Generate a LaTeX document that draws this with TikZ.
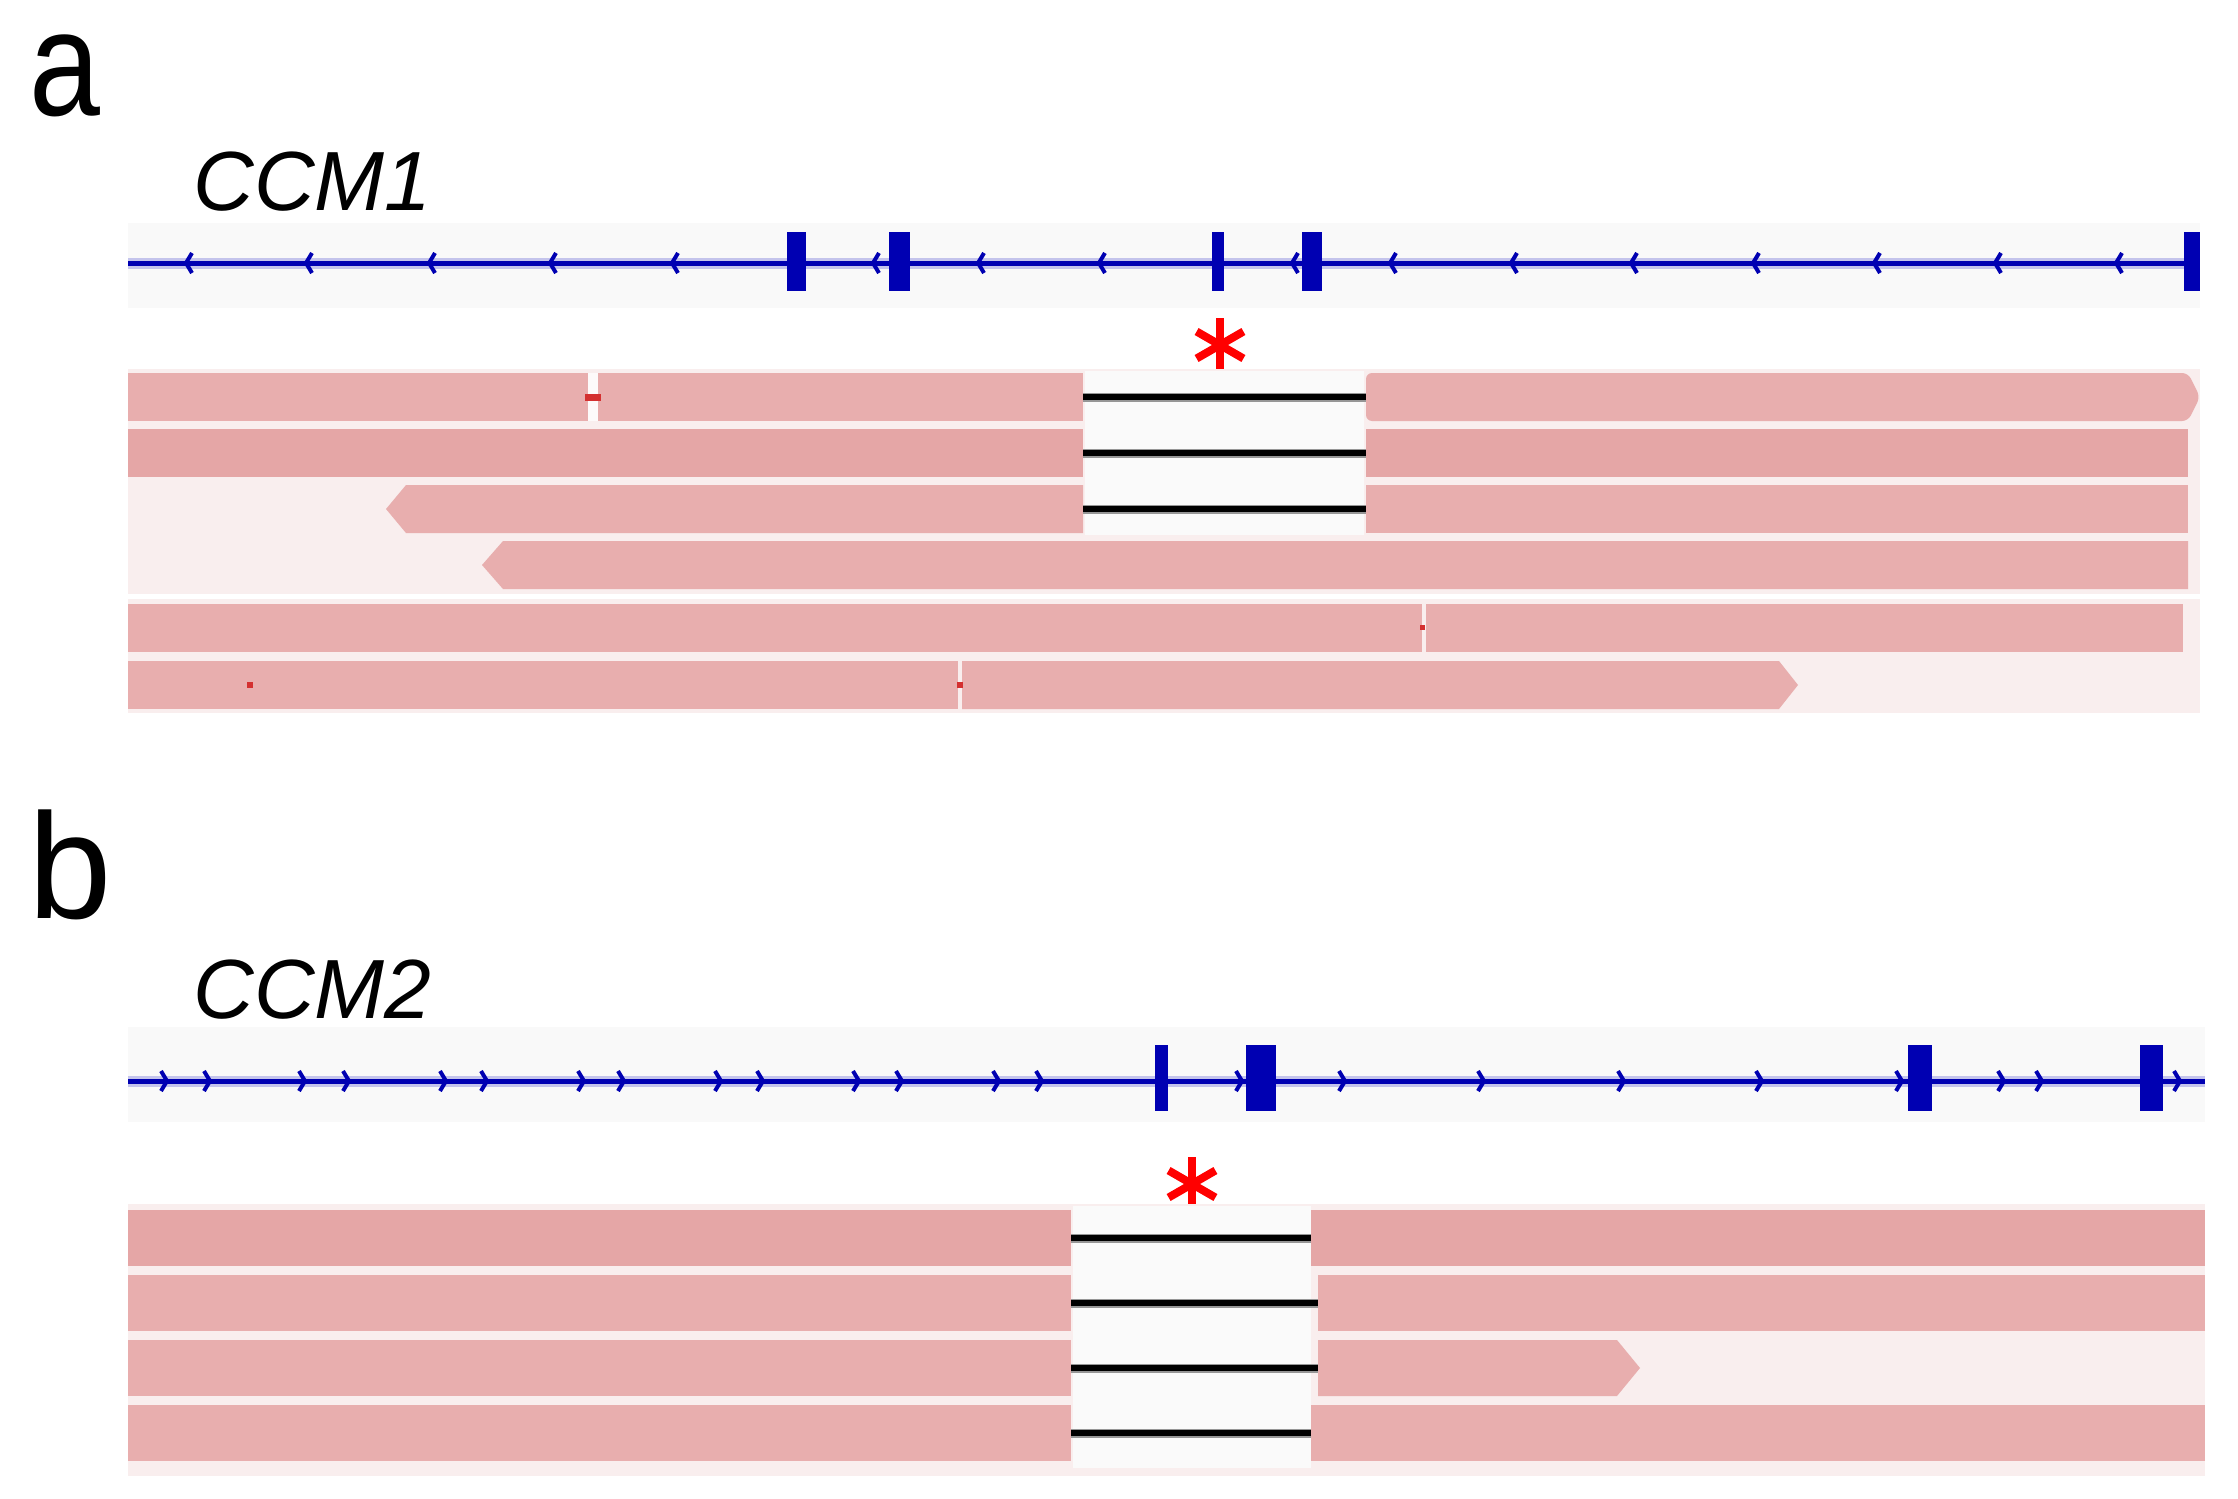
\documentclass[tikz,border=0pt]{standalone}
\usepackage{fontspec}
\setmainfont{Liberation Sans}
\definecolor{geneblue}{RGB}{0,0,178}
\definecolor{genehalo}{RGB}{196,196,236}
\definecolor{trackbg}{RGB}{249,249,249}
\definecolor{readcol}{RGB}{232,174,174}
\definecolor{readdark}{RGB}{229,166,166}
\definecolor{readbg}{RGB}{249,238,238}
\definecolor{gapcol}{RGB}{250,250,250}
\definecolor{delred}{RGB}{212,48,48}
\definecolor{junchalo}{RGB}{150,150,150}
\begin{document}
\begin{tikzpicture}[x=0.5pt,y=-0.5pt,
  trackbox/.style={fill=trackbg},
  glinehalo/.style={draw=genehalo,line width=5.5pt},
  gline/.style={draw=geneblue,line width=2.5pt},
  exonbox/.style={fill=geneblue},
  chev/.style={draw=geneblue,line width=2pt},
  rbg/.style={fill=readbg},
  rfill/.style={fill=readcol},
  rfilldark/.style={fill=readdark},
  gapbox/.style={fill=gapcol},
  junchalo/.style={draw=junchalo,line width=4.5pt},
  junc/.style={draw=black,line width=3pt},
  delmark/.style={fill=delred},
  delgap/.style={fill=white!70!readbg},
  starline/.style={draw=red,line width=4pt},
  panellabel/.style={inner sep=0pt,font=\fontsize{75pt}{80pt}\selectfont},
  genename/.style={inner sep=0pt,font=\fontsize{42pt}{46pt}\selectfont\itshape}]
\useasboundingbox (0,0) rectangle (2238,1499);
\fill[white] (0,0) rectangle (2238,1499);

% ---------------- Panel a ----------------
\node[panellabel,anchor=base west] (la) at (29,115) {\scalebox{0.85}[1]{a}};
\node[genename,anchor=base west] (g1) at (193,210) {CCM1};

\fill[trackbox] (128,223) rectangle (2200,308);
\draw[glinehalo] (128,263) -- (2200,263);
\draw[gline] (128,263) -- (2200,263);
\foreach \x in {186,306,429,550,672,873,978,1099,1292,1390,1511,1631,1753,1874,1995,2116}
  \draw[chev] (\x+6,253) -- (\x,263) -- (\x+6,273);
\foreach \a/\b in {787/806,889/910,1212/1224,1302/1322,2184/2200}
  \fill[exonbox] (\a,232) rectangle (\b,291);

% star a
\draw[starline] (1220,318) -- (1220,372);
\draw[starline] (1196.6,331.5) -- (1243.4,358.5);
\draw[starline] (1196.6,358.5) -- (1243.4,331.5);

% read backgrounds
\fill[rbg] (128,369) rectangle (2200,594);
\fill[rbg] (128,599) rectangle (2200,713);
\fill[gapbox] (1085,371) rectangle (1364,535);

% row 1
\fill[rfill] (128,373) rectangle (1083,421);
\fill[rfill,rounded corners=3pt] (1366,373) -- (2188,373) -- (2200,397) -- (2188,421) -- (1366,421) -- cycle;
\fill[delgap] (588,373) rectangle (598,421);
\fill[delmark] (585,394) rectangle (601,401);
% row 2
\fill[rfilldark] (128,429) rectangle (1083,477);
\fill[rfilldark] (1366,429) rectangle (2188,477);
% row 3
\fill[rfill] (386,509) -- (406,485) -- (1083,485) -- (1083,533) -- (406,533) -- cycle;
\fill[rfill] (1366,485) rectangle (2188,533);
% row 4
\fill[rfill] (482,565) -- (503,541) -- (2188,541) -- (2188,589) -- (503,589) -- cycle;
% row 5
\fill[rfill] (128,604) rectangle (1422,652);
\fill[rfill] (1426,604) rectangle (2183,652);
\fill[delmark] (1420,625) rectangle (1425,630);
% row 6
\fill[rfill] (128,661) rectangle (958,709);
\fill[rfill] (962,661) -- (1779,661) -- (1798,685) -- (1779,709) -- (962,709) -- cycle;
\fill[delmark] (957,682) rectangle (963,688);
\fill[delmark] (247,682) rectangle (253,688);

% junctions a
\foreach \y in {397,453,509} {
  \draw[junchalo] (1083,\y) -- (1366,\y);
  \draw[junc] (1083,\y) -- (1366,\y);
}

% ---------------- Panel b ----------------
\node[panellabel,anchor=base west] (lb) at (28,918) {b};
\node[genename,anchor=base west] (g2) at (193,1018) {CCM2};

\fill[trackbox] (128,1027) rectangle (2205,1122);
\draw[glinehalo] (128,1081) -- (2205,1081);
\draw[gline] (128,1081) -- (2205,1081);
\foreach \x in {167,210,305,349,446,487,584,624,721,763,859,902,999,1042,1242,1345,1484,1624,1762,1902,2004,2042,2180}
  \draw[chev] (\x-6,1071) -- (\x,1081) -- (\x-6,1091);
\foreach \a/\b in {1155/1168,1246/1276,1908/1932,2140/2163}
  \fill[exonbox] (\a,1045) rectangle (\b,1111);

% star b
\draw[starline] (1192,1157) -- (1192,1211);
\draw[starline] (1168.6,1170.5) -- (1215.4,1197.5);
\draw[starline] (1168.6,1197.5) -- (1215.4,1170.5);

\fill[rbg] (128,1204) rectangle (2205,1476);
\fill[gapbox] (1073,1206) rectangle (1311,1468);

\fill[rfilldark] (128,1210) rectangle (1071,1266);
\fill[rfilldark] (1311,1210) rectangle (2205,1266);
\fill[rfill] (128,1275) rectangle (1071,1331);
\fill[rfill] (1318,1275) rectangle (2205,1331);
\fill[rfill] (128,1340) rectangle (1071,1396);
\fill[rfill] (1318,1340) -- (1617,1340) -- (1640,1368) -- (1617,1396) -- (1318,1396) -- cycle;
\fill[rfill] (128,1405) rectangle (1071,1461);
\fill[rfill] (1311,1405) rectangle (2205,1461);

\foreach \y/\e in {1238/1311,1303/1318,1368/1318,1433/1311} {
  \draw[junchalo] (1071,\y) -- (\e,\y);
  \draw[junc] (1071,\y) -- (\e,\y);
}
\end{tikzpicture}
\end{document}
